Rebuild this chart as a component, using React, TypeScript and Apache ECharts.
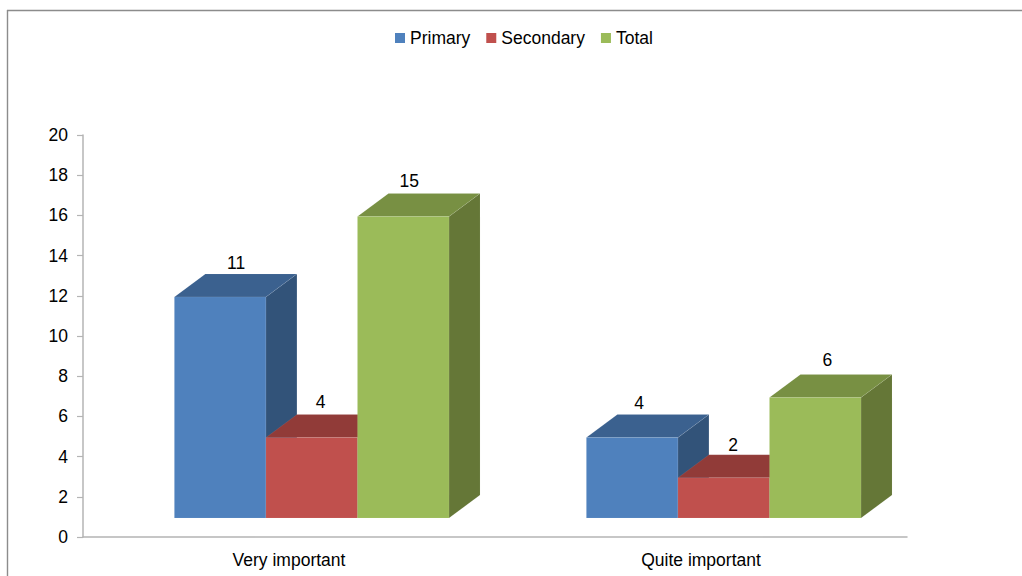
import React, { useEffect, useRef } from "react";
import * as echarts from "echarts";

const categories = ["Very important", "Quite important"];
const primary = [11, 4];
const secondary = [4, 2];
const total = [15, 6];
const seriesNames = ["Primary", "Secondary", "Total"];
const seriesValues = [primary, secondary, total];
const frontColors = ["#4F81BD", "#C0504D", "#9BBB59"];
const topColors = ["#3B618F", "#913B38", "#789043"];
const sideColors = ["#325379", "#7E3230", "#657737"];

// per-label nudges of the value labels, relative to the bar's front centre / back top edge
const labelNudgeX = [[16, 7], [9, 9.5], [6, 12]];
const labelNudgeY = [[-11, -12], [-13, -10], [-13, -14]];

const FONT = "Liberation Sans";
const FONT_SIZE = 17.5;
const DEPTH_X = 31;
const DEPTH_Y = 23;
const FLOOR_LIFT = 19;
const GROUP_SHIFT = 22.7;
const BAR_RATIO = 0.2222;

function makeRenderItem(idx: number) {
  return (params: any, api: any) => {
    const cat = api.value(0);
    const val = api.value(1);
    const origin = api.coord([cat, 0]);
    const band = api.size([1, 0])[0];
    const h = api.size([0, val])[1];
    const w = band * BAR_RATIO;
    const x0 = origin[0] + GROUP_SHIFT + (idx - 1.5) * w;
    const x1 = x0 + w;
    const yb = origin[1] - FLOOR_LIFT;
    const yt = yb - h;
    const edge = { stroke: "rgba(255,255,255,0.12)", lineWidth: 0.6 };
    return {
      type: "group",
      children: [
        {
          type: "polygon",
          shape: { points: [[x1, yb], [x1 + DEPTH_X, yb - DEPTH_Y], [x1 + DEPTH_X, yt - DEPTH_Y], [x1, yt]] },
          style: { fill: sideColors[idx], ...edge },
        },
        {
          type: "polygon",
          shape: { points: [[x0, yt], [x0 + DEPTH_X, yt - DEPTH_Y], [x1 + DEPTH_X, yt - DEPTH_Y], [x1, yt]] },
          style: { fill: topColors[idx], ...edge },
        },
        {
          type: "rect",
          shape: { x: x0, y: yt, width: w, height: h },
          style: { fill: frontColors[idx], ...edge },
        },
        {
          type: "text",
          x: x0 + w / 2 + labelNudgeX[idx][cat],
          y: yt - DEPTH_Y + labelNudgeY[idx][cat],
          style: {
            text: String(val),
            fill: "#000",
            font: `${FONT_SIZE}px "${FONT}"`,
            align: "center",
            verticalAlign: "middle",
          },
        },
      ],
    };
  };
}

export default function App() {
  const ref = useRef<HTMLDivElement>(null);
  useEffect(() => {
    const chart = echarts.init(ref.current!, null, { renderer: "svg" });
    chart.setOption({
      animation: false,
      backgroundColor: "#fff",
      textStyle: { fontFamily: FONT },
      graphic: [
        { type: "line", shape: { x1: 7, y1: 10.5, x2: 1022, y2: 10.5 }, style: { stroke: "#8c8c8c", lineWidth: 1.4 } },
        { type: "line", shape: { x1: 7.5, y1: 10, x2: 7.5, y2: 576 }, style: { stroke: "#8c8c8c", lineWidth: 1.4 } },
      ],
      legend: {
        left: 395,
        top: 29,
        padding: 0,
        itemWidth: 10,
        itemHeight: 10,
        itemGap: 16,
        icon: "rect",
        textStyle: { fontFamily: FONT, fontSize: FONT_SIZE, color: "#000" },
        data: seriesNames,
      },
      grid: { left: 83, top: 135, width: 824, height: 402 },
      xAxis: {
        type: "category",
        data: categories,
        axisLine: { lineStyle: { color: "#b4b4b4", width: 1.5 } },
        axisTick: { length: 6, lineStyle: { color: "#b4b4b4", width: 1.2 } },
        axisLabel: { color: "#000", fontFamily: FONT, fontSize: FONT_SIZE, margin: 14 },
      },
      yAxis: {
        type: "value",
        min: 0,
        max: 20,
        interval: 2,
        axisLine: { show: true, lineStyle: { color: "#b4b4b4", width: 1.5 } },
        axisTick: { show: true, length: 6, lineStyle: { color: "#b4b4b4", width: 1.2 } },
        axisLabel: { color: "#000", fontFamily: FONT, fontSize: FONT_SIZE, margin: 15 },
        splitLine: { show: false },
      },
      series: seriesNames.map((name, idx) => ({
        type: "custom",
        name,
        coordinateSystem: "cartesian2d",
        itemStyle: { color: frontColors[idx] },
        encode: { x: 0, y: 1 },
        clip: false,
        renderItem: makeRenderItem(idx),
        data: seriesValues[idx].map((v, i) => [i, v]),
      })),
    });
    return () => chart.dispose();
  }, []);
  return (
    <div
      ref={ref}
      style={{ position: "absolute", left: 0, top: 0, width: 1022, height: 576 }}
    />
  );
}
